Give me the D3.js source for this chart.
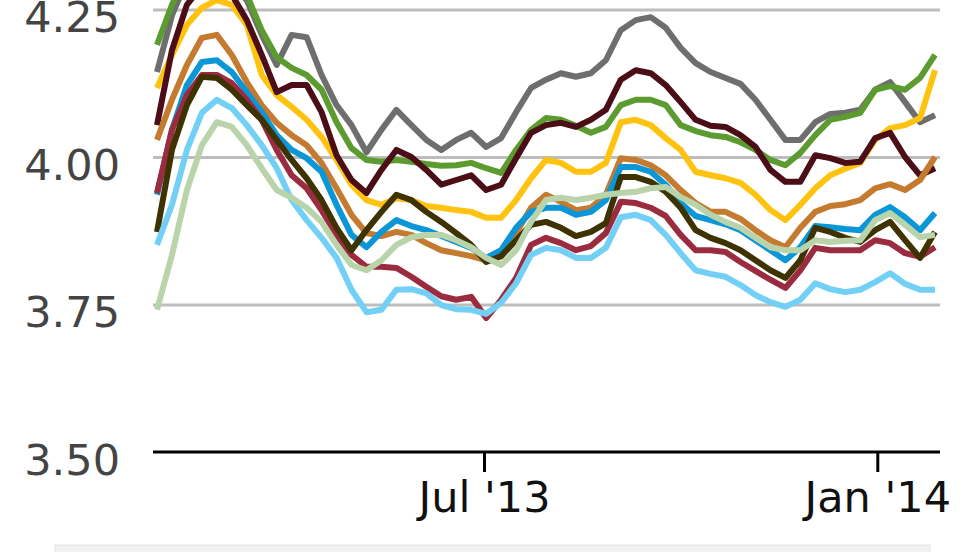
<!DOCTYPE html>
<html>
<head>
<meta charset="utf-8">
<script src="https://cdn.jsdelivr.net/npm/d3@7"></script>
<style>
  html, body { margin: 0; padding: 0; background: #fff; }
  svg { display: block; }
</style>
</head>
<body>
<svg id="chart" width="980" height="552"></svg>
<script>
// ---- data ----
const weeks = [
  "2013-01-29","2013-02-05","2013-02-12","2013-02-19","2013-02-26","2013-03-05","2013-03-12","2013-03-19",
  "2013-03-26","2013-04-02","2013-04-09","2013-04-16","2013-04-23","2013-04-30","2013-05-07","2013-05-14",
  "2013-05-21","2013-05-28","2013-06-04","2013-06-11","2013-06-18","2013-06-25","2013-07-02","2013-07-09",
  "2013-07-16","2013-07-23","2013-07-30","2013-08-06","2013-08-13","2013-08-20","2013-08-27","2013-09-03",
  "2013-09-10","2013-09-17","2013-09-24","2013-10-01","2013-10-08","2013-10-15","2013-10-22","2013-10-29",
  "2013-11-05","2013-11-12","2013-11-19","2013-11-26","2013-12-03","2013-12-10","2013-12-17","2013-12-24",
  "2013-12-31","2014-01-07","2014-01-14","2014-01-21","2014-01-28"
];
const yTicks = [3.50, 3.75, 4.00, 4.25];
const xTicks = ["2013-07-01", "2014-01-01"];

const sGray = [4.144,4.24,4.30,4.32,4.32,4.29,4.266,4.207,4.156,4.207,4.203,4.139,4.088,4.054,4.008,4.046,4.08,4.054,4.029,4.012,4.029,4.041,4.017,4.032,4.076,4.117,4.131,4.142,4.136,4.142,4.164,4.215,4.232,4.237,4.219,4.185,4.159,4.144,4.134,4.124,4.097,4.063,4.029,4.029,4.059,4.073,4.075,4.08,4.114,4.127,4.093,4.059,4.071];
const sGreen = [4.19,4.258,4.31,4.33,4.33,4.31,4.275,4.215,4.169,4.151,4.139,4.114,4.059,4.015,3.995,3.992,3.995,3.992,3.988,3.985,3.986,3.99,3.981,3.973,4.012,4.046,4.066,4.063,4.053,4.041,4.051,4.088,4.097,4.097,4.088,4.054,4.044,4.037,4.034,4.025,4.012,3.995,3.986,4.007,4.037,4.063,4.068,4.075,4.114,4.12,4.114,4.134,4.173];
const sMaroon = [4.054,4.181,4.258,4.29,4.30,4.275,4.232,4.173,4.11,4.122,4.122,4.076,4.003,3.961,3.939,3.978,4.012,4.0,3.978,3.953,3.961,3.969,3.944,3.953,3.998,4.041,4.054,4.058,4.051,4.063,4.08,4.131,4.147,4.142,4.122,4.093,4.063,4.053,4.051,4.037,4.017,3.978,3.958,3.958,4.003,3.998,3.99,3.992,4.032,4.041,4.0,3.969,3.981];
const sYellow = [4.117,4.173,4.224,4.253,4.266,4.258,4.224,4.139,4.105,4.085,4.063,4.034,3.995,3.953,3.927,3.919,3.93,3.927,3.917,3.914,3.91,3.907,3.897,3.897,3.927,3.964,3.995,3.99,3.975,3.975,3.99,4.059,4.063,4.054,4.032,4.012,3.975,3.969,3.964,3.956,3.936,3.91,3.893,3.919,3.947,3.969,3.98,3.99,4.029,4.049,4.054,4.066,4.147];
const sOrange = [4.029,4.097,4.156,4.202,4.207,4.173,4.127,4.088,4.058,4.037,4.02,3.99,3.947,3.902,3.871,3.866,3.873,3.868,3.854,3.842,3.837,3.832,3.825,3.832,3.871,3.914,3.936,3.924,3.91,3.914,3.936,3.998,3.995,3.986,3.969,3.944,3.922,3.907,3.907,3.895,3.876,3.859,3.847,3.88,3.907,3.917,3.92,3.927,3.947,3.954,3.944,3.961,4.0];
const sBlue = [3.936,4.046,4.122,4.161,4.164,4.144,4.11,4.076,4.037,4.012,3.998,3.975,3.919,3.868,3.847,3.873,3.893,3.883,3.876,3.866,3.856,3.846,3.829,3.842,3.88,3.907,3.914,3.914,3.902,3.907,3.927,3.983,3.983,3.975,3.953,3.922,3.9,3.893,3.886,3.876,3.859,3.842,3.825,3.847,3.883,3.881,3.878,3.876,3.902,3.915,3.898,3.876,3.905];
const sCrimson = [3.939,4.046,4.105,4.139,4.139,4.125,4.097,4.063,4.012,3.969,3.947,3.91,3.868,3.834,3.814,3.814,3.812,3.797,3.78,3.764,3.758,3.763,3.727,3.758,3.795,3.851,3.863,3.854,3.842,3.849,3.871,3.924,3.922,3.914,3.9,3.868,3.842,3.842,3.839,3.822,3.807,3.792,3.778,3.808,3.846,3.842,3.842,3.842,3.859,3.854,3.837,3.831,3.847];
const sOlive = [3.873,4.012,4.088,4.136,4.134,4.114,4.088,4.063,4.029,3.995,3.964,3.927,3.88,3.842,3.876,3.907,3.936,3.927,3.907,3.89,3.871,3.851,3.822,3.832,3.859,3.885,3.89,3.88,3.866,3.873,3.888,3.966,3.966,3.958,3.941,3.914,3.876,3.863,3.854,3.842,3.825,3.808,3.795,3.825,3.88,3.873,3.863,3.856,3.876,3.89,3.859,3.829,3.873];
const sLightBlue = [3.851,3.919,4.012,4.075,4.097,4.083,4.054,4.02,3.981,3.927,3.893,3.863,3.829,3.775,3.737,3.741,3.775,3.776,3.769,3.749,3.742,3.741,3.734,3.753,3.786,3.834,3.846,3.842,3.829,3.829,3.846,3.898,3.902,3.893,3.868,3.837,3.808,3.802,3.797,3.783,3.766,3.754,3.746,3.758,3.786,3.776,3.771,3.775,3.788,3.803,3.785,3.775,3.775];
const sSage = [3.741,3.834,3.944,4.02,4.059,4.051,4.02,3.981,3.944,3.931,3.914,3.89,3.851,3.817,3.808,3.825,3.851,3.864,3.868,3.868,3.859,3.847,3.829,3.817,3.842,3.89,3.927,3.931,3.927,3.931,3.936,3.939,3.941,3.947,3.949,3.932,3.919,3.902,3.89,3.88,3.863,3.847,3.842,3.842,3.859,3.856,3.858,3.859,3.893,3.905,3.885,3.864,3.868];

const seriesList = [
  { name: "gray", values: sGray, color: "#6e6e6e" },
  { name: "green", values: sGreen, color: "#5c9b2f" },
  { name: "yellow", values: sYellow, color: "#ffc20e" },
  { name: "maroon", values: sMaroon, color: "#4b0d16" },
  { name: "orange", values: sOrange, color: "#c47a2f" },
  { name: "blue", values: sBlue, color: "#0b96d7" },
  { name: "crimson", values: sCrimson, color: "#9b2c40" },
  { name: "olive", values: sOlive, color: "#3e3300" },
  { name: "lightblue", values: sLightBlue, color: "#72cff5" },
  { name: "sage", values: sSage, color: "#b9d4aa" }
];

// ---- chart ----
const parse = d3.timeParse("%Y-%m-%d");
const dates = weeks.map(parse);
const svg = d3.select("#chart");

const x = d3.scaleTime().domain([dates[0], dates[dates.length - 1]]).range([157, 935]);
const y = d3.scaleLinear().domain([3.5, 4.25]).range([452, 9.5]);

const FONT = "'DejaVu Sans', Verdana, sans-serif";

// grid lines
const grid = svg.append("g")
  .attr("transform", "translate(153,0)")
  .call(d3.axisLeft(y).tickValues(yTicks.filter(v => v > 3.5)).tickSize(-787).tickFormat(""));
grid.select(".domain").remove();
grid.selectAll(".tick line").attr("stroke", "#bdbdbd").attr("stroke-width", 3);

// y labels
const yAx = svg.append("g")
  .attr("transform", "translate(120,0)")
  .call(d3.axisLeft(y).tickValues(yTicks).tickSize(0).tickPadding(0).tickFormat(d3.format(".2f")));
yAx.select(".domain").remove();
yAx.selectAll(".tick text")
  .attr("font-family", FONT).attr("font-size", 43).attr("fill", "#444")
  .attr("x", 0).attr("dy", "0.52em").attr("text-anchor", "end");

// lines
const line = d3.line().x((d, i) => x(dates[i])).y(d => y(d));
svg.append("g").selectAll("path").data(seriesList).join("path")
  .attr("d", s => line(s.values))
  .attr("fill", "none")
  .attr("stroke", s => s.color)
  .attr("stroke-width", 6)
  .attr("stroke-linejoin", "round");

// x axis
const xAx = svg.append("g")
  .attr("transform", `translate(0,${y(3.5)})`)
  .call(d3.axisBottom(x).tickValues(xTicks.map(parse)).tickSize(20).tickPadding(6)
    .tickFormat(d3.timeFormat("%b '%y")));
xAx.select(".domain").remove();
xAx.append("line").attr("x1", 153).attr("x2", 940).attr("y1", 0).attr("y2", 0)
  .attr("stroke", "#000").attr("stroke-width", 3);
xAx.selectAll(".tick line").attr("stroke", "#000").attr("stroke-width", 3);
xAx.selectAll(".tick text").attr("font-family", FONT).attr("font-size", 43).attr("fill", "#111")
  .attr("dy", "0.78em");

// legend panel (partially visible)
svg.append("rect").attr("x", 55).attr("y", 545).attr("width", 875).attr("height", 20)
  .attr("fill", "#f1f1f1").attr("stroke", "#e4e4e4").attr("stroke-width", 1);
</script>
</body>
</html>
